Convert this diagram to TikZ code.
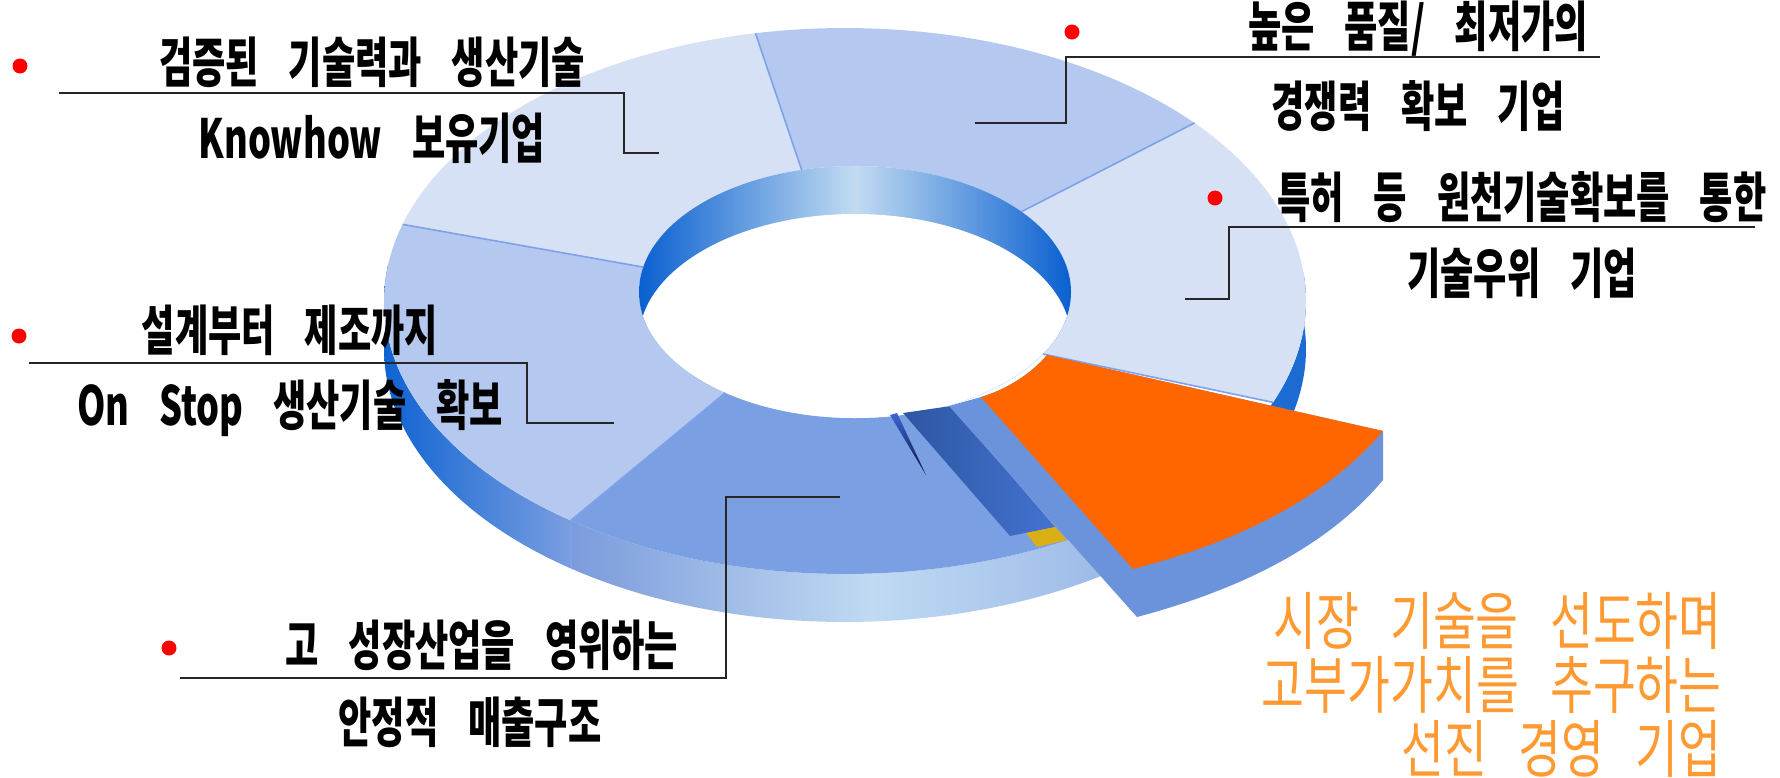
\documentclass[tikz,border=0pt]{standalone}
\usepackage{fontspec}
\newfontfamily\krb[FakeStretch=0.67,WordSpace=3.6]{Noto Sans CJK KR}
\newfontfamily\kro[FakeStretch=0.74,WordSpace=3.0]{Noto Sans CJK KR}
\definecolor{segLight}{HTML}{D6E1F5}
\definecolor{segMid}{HTML}{B5C9F0}
\definecolor{segBot}{HTML}{7A9FE3}
\definecolor{slabC}{HTML}{6A93DB}
\definecolor{orangeS}{HTML}{FF6600}
\definecolor{orangeT}{HTML}{FF9A33}
\definecolor{bnd}{HTML}{7DA2E8}
\definecolor{wallL1}{HTML}{0F63D2}
\definecolor{wallL2}{HTML}{7A9EE0}
\definecolor{wallF1}{HTML}{7B9BDC}
\definecolor{wallF2}{HTML}{C0DAF2}
\definecolor{wallF3}{HTML}{93B2E6}
\definecolor{wallR}{HTML}{1B6BD2}
\definecolor{inw1}{HTML}{0A60D0}
\definecolor{inw2}{HTML}{C2DBF2}
\definecolor{stripL}{HTML}{2D57A3}
\definecolor{stripR}{HTML}{4472CF}
\definecolor{yel}{HTML}{DAAF14}
\definecolor{slvT}{HTML}{3D63D6}
\definecolor{slvB}{HTML}{0B1633}
\begin{document}
\begin{tikzpicture}[x=1pt,y=-1pt,
  lbl/.style={font=\krb\bfseries\fontsize{54}{60}\selectfont, inner sep=0pt, text=black},
  otxt/.style={font=\kro\fontsize{63}{64}\selectfont, inner sep=0pt, text=orangeT, align=right},
  leader/.style={draw=black!85, line width=1.3pt},
  bullet/.style={circle, fill=red, inner sep=0pt, minimum size=15pt},
  bound/.style={draw=bnd, line width=1.6pt},
]
\useasboundingbox (0,0) rectangle (1780,777);
\fill[white] (0,0) rectangle (1780,777);

\def\ocx{845}\def\ocy{301}\def\orx{461}\def\ory{273}
\def\icx{855}\def\icy{292}\def\irx{216}\def\iry{126}
\def\dep{48}

% ---- side walls ----
\shade[left color=wallL1, right color=wallL2]
  plot[domain=126.5:188,samples=50] ({\ocx+\orx*cos(\x)},{\ocy+\ory*sin(\x)})
  -- plot[domain=188:126.5,samples=50] ({\ocx+\orx*cos(\x)},{\ocy+\dep+\ory*sin(\x)}) -- cycle;
\shade[left color=wallF1, right color=wallF3, middle color=wallF2]
  plot[domain=45:126.5,samples=50] ({\ocx+\orx*cos(\x)},{\ocy+\ory*sin(\x)})
  -- plot[domain=126.5:45,samples=50] ({\ocx+\orx*cos(\x)},{\ocy+\dep+\ory*sin(\x)}) -- cycle;
\fill[wallR]
  plot[domain=-6:26,samples=30] ({\ocx+\orx*cos(\x)},{\ocy+\ory*sin(\x)})
  -- plot[domain=26:-6,samples=30] ({\ocx+\orx*cos(\x)},{\ocy+\dep+\ory*sin(\x)}) -- cycle;
\draw[bnd, line width=1.4pt] ({\ocx+\orx*cos(126.5)},{\ocy+\ory*sin(126.5)}) -- ({\ocx+\orx*cos(126.5)},{\ocy+\dep+\ory*sin(126.5)});

% ---- top faces ----
\fill[segLight]
  plot[domain=196.3:258.8,samples=40] ({\ocx+\orx*cos(\x)},{\ocy+\ory*sin(\x)})
  -- plot[domain=255.7:191.4,samples=30] ({\icx+\irx*cos(\x)},{\icy+\iry*sin(\x)}) -- cycle;
\fill[segMid]
  plot[domain=258.8:319.3,samples=40] ({\ocx+\orx*cos(\x)},{\ocy+\ory*sin(\x)})
  -- plot[domain=320.4:255.7,samples=30] ({\icx+\irx*cos(\x)},{\icy+\iry*sin(\x)}) -- cycle;
\fill[segLight]
  plot[domain=319.3:381.8,samples=40] ({\ocx+\orx*cos(\x)},{\ocy+\ory*sin(\x)})
  -- plot[domain=389.5:320.4,samples=30] ({\icx+\irx*cos(\x)},{\icy+\iry*sin(\x)}) -- cycle;
\fill[segBot]
  plot[domain=55:126.5,samples=40] ({\ocx+\orx*cos(\x)},{\ocy+\ory*sin(\x)})
  -- plot[domain=126.9:77,samples=30] ({\icx+\irx*cos(\x)},{\icy+\iry*sin(\x)}) -- cycle;
\fill[segMid]
  plot[domain=126.5:196.3,samples=40] ({\ocx+\orx*cos(\x)},{\ocy+\ory*sin(\x)})
  -- plot[domain=191.4:126.9,samples=30] ({\icx+\irx*cos(\x)},{\icy+\iry*sin(\x)}) -- cycle;

% ---- inner wall and hole ----
\shade[left color=inw1, right color=inw1, middle color=inw2] (\icx,\icy) ellipse [x radius=\irx, y radius=\iry];
\begin{scope}
  \clip (\icx,\icy) ellipse [x radius=\irx, y radius=\iry];
  \fill[white] ({\icx},{\icy+\dep}) ellipse [x radius=\irx, y radius=\iry];
\end{scope}

% ---- segment boundaries ----
\draw[bound] ({\ocx+\orx*cos(258.8)},{\ocy+\ory*sin(258.8)}) -- ({\icx+\irx*cos(255.7)},{\icy+\iry*sin(255.7)});
\draw[bound] ({\ocx+\orx*cos(319.3)},{\ocy+\ory*sin(319.3)}) -- ({\icx+\irx*cos(320.4)},{\icy+\iry*sin(320.4)});
\draw[bound] ({\ocx+\orx*cos(196.3)},{\ocy+\ory*sin(196.3)}) -- ({\icx+\irx*cos(191.4)},{\icy+\iry*sin(191.4)});
\draw[bound] ({\ocx+\orx*cos(126.5)},{\ocy+\ory*sin(126.5)}) -- ({\icx+\irx*cos(126.9)},{\icy+\iry*sin(126.9)});
\draw[bound] ({\ocx+\orx*cos(21.8)},{\ocy+\ory*sin(21.8)}) -- ({\icx+\irx*cos(29.5)},{\icy+\iry*sin(29.5)});

% ---- exploded slice ----
\shade[top color=slvT, bottom color=slvB] (890,415) -- (897,413) -- (926,475) -- cycle;
\shade[left color=stripL, right color=stripR] (903,413) -- (951,406) -- (1055,527) -- (1010,536) -- cycle;
\fill[yel] (1026,533) -- (1055,527) -- (1067,540) -- (1037,547) -- cycle;
\fill[slabC] (949,406) -- (1137,617) .. controls (1227,593) and (1322,553) .. (1383,480)
  -- (1383,431) -- (1047,355) .. controls (1030,375) and (1005,390) .. (981,397) -- cycle;
\fill[orangeS] (1047,355) .. controls (1030,375) and (1005,390) .. (981,397)
  -- (1133,569) .. controls (1225,545) and (1320,505) .. (1383,431) -- cycle;

% ---- labels ----
\node[bullet] (b1) at (20,66) {};
\node[bullet] (b2) at (19,336) {};
\node[bullet] (b3) at (169,648) {};
\node[bullet] (b4) at (1072,32) {};
\node[bullet] (b5) at (1215,198) {};

\node[lbl] (t1a) at (372,62) {검증된 기술력과 생산기술};
\node[lbl] (t1b) at (372,138) {Knowhow 보유기업};
\node[lbl] (t2a) at (290,330) {설계부터 제조까지};
\node[lbl] (t2b) at (290,408) {On Stop 생산기술 확보};
\node[lbl] (t3a) at (482,645) {고 성장산업을 영위하는};
\node[lbl] (t3b) at (470,722) {안정적 매출구조};
\node[lbl] (t4a) at (1418,29) {높은 품질/ 최저가의};
\node[lbl] (t4b) at (1418,106) {경쟁력 확보 기업};
\node[lbl] (t5a) at (1522,197) {특허 등 원천기술확보를 통한};
\node[lbl] (t5b) at (1522,273) {기술우위 기업};

\coordinate (l1a) at (59,93);   \coordinate (l1b) at (624,93);  \coordinate (l1c) at (624,153);  \coordinate (l1d) at (659,153);
\coordinate (l2a) at (29,363);  \coordinate (l2b) at (527,363); \coordinate (l2c) at (527,423);  \coordinate (l2d) at (614,423);
\coordinate (l3a) at (180,678); \coordinate (l3b) at (726,678); \coordinate (l3c) at (726,497);  \coordinate (l3d) at (840,497);
\coordinate (l4a) at (1600,57); \coordinate (l4b) at (1066,57); \coordinate (l4c) at (1066,123); \coordinate (l4d) at (975,123);
\coordinate (l5a) at (1755,227);\coordinate (l5b) at (1229,227);\coordinate (l5c) at (1229,299); \coordinate (l5d) at (1185,299);
\draw[leader] (l1a) -- (l1b) -- (l1c) -- (l1d);
\draw[leader] (l2a) -- (l2b) -- (l2c) -- (l2d);
\draw[leader] (l3a) -- (l3b) -- (l3c) -- (l3d);
\draw[leader] (l4a) -- (l4b) -- (l4c) -- (l4d);
\draw[leader] (l5a) -- (l5b) -- (l5c) -- (l5d);

\node[otxt, anchor=east] (ot) at (1722,685) {시장 기술을 선도하며\\고부가가치를 추구하는\\선진 경영 기업};
\end{tikzpicture}
\end{document}
